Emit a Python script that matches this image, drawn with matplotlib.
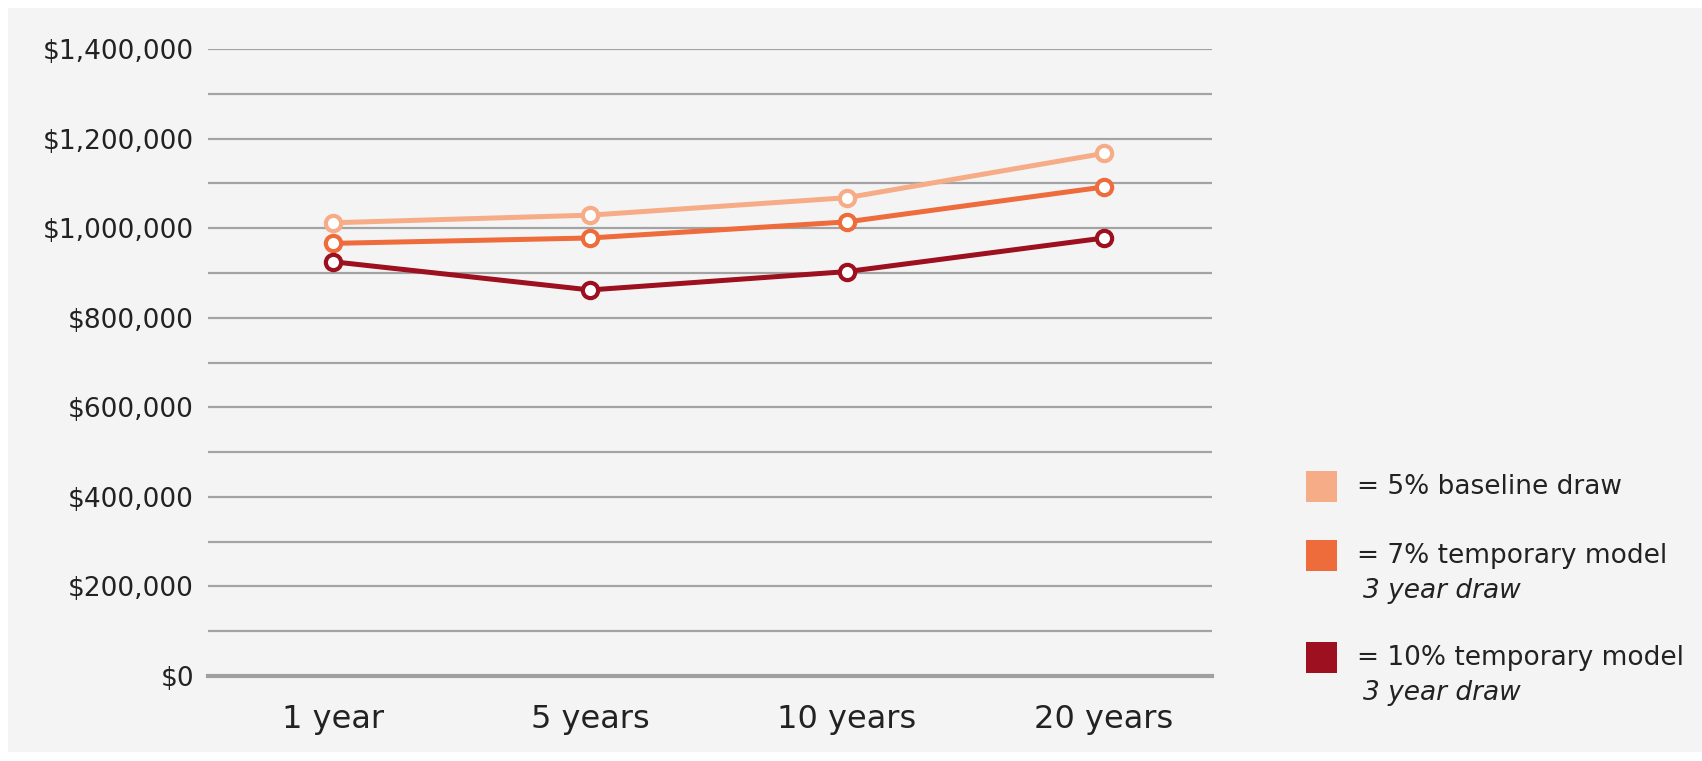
import matplotlib.pyplot as plt
from matplotlib.patches import Rectangle
from matplotlib.ticker import FuncFormatter, MultipleLocator

# data
periods = ["1 year", "5 years", "10 years", "20 years"]
baseline_5 = [1012000, 1029000, 1068000, 1167000]
temp_7 = [966000, 978000, 1014000, 1092000]
temp_10 = [925000, 862000, 903000, 978000]

series_names = ["= 5% baseline draw", "= 7% temporary model", "= 10% temporary model"]
series_notes = ["", "3 year draw", "3 year draw"]
colors = ["#F6AC87", "#EE6B3B", "#9C101F"]

W, H = 1702, 761
fig = plt.figure(figsize=(W / 100, H / 100), dpi=100)
fig.patch.set_facecolor("white")
# light grey panel behind everything
fig.add_artist(Rectangle((8 / W, 9 / H), 1 - 8 / W, 1 - 17 / H,
                         transform=fig.transFigure, facecolor="#F4F4F4",
                         edgecolor="none", zorder=-10))

ax = fig.add_axes([208 / W, 85 / H, 1004 / W, 627 / H])
ax.set_facecolor("none")

x = list(range(len(periods)))
for vals, c in zip([baseline_5, temp_7, temp_10], colors):
    ax.plot(x, vals, color=c, lw=3.6, marker="o", ms=11,
            mfc="white", mec=c, mew=3.0, zorder=3, clip_on=False)

ax.set_ylim(0, 1400000)
ax.set_xlim(-0.486, 3.42)
ax.yaxis.set_major_locator(MultipleLocator(200000))
ax.yaxis.set_minor_locator(MultipleLocator(100000))
ax.yaxis.set_major_formatter(FuncFormatter(lambda v, p: "${:,.0f}".format(v)))
ax.grid(True, which="both", axis="y", color="#A3A3A3", lw=1.6, zorder=1)
ax.set_xticks(x)
ax.set_xticklabels(periods)

for s in ["top", "right", "left"]:
    ax.spines[s].set_visible(False)
ax.spines["bottom"].set_color("#A0A0A0")
ax.spines["bottom"].set_linewidth(3.0)

ax.tick_params(axis="y", which="both", length=0, pad=10, labelsize=19, labelcolor="#222222")
ax.tick_params(axis="x", length=0, pad=20, labelsize=23, labelcolor="#222222")

# legend drawn by hand (square + label, optional italic note)
leg_y = [487, 556, 658]
for c, name, note, yc in zip(colors, series_names, series_notes, leg_y):
    fig.add_artist(Rectangle((1306 / W, 1 - (yc + 15) / H), 31 / W, 31 / H,
                             transform=fig.transFigure, facecolor=c, edgecolor="none"))
    fig.text(1357 / W, 1 - yc / H, name, fontsize=19, color="#222222", va="center")
    if note:
        fig.text(1363 / W, 1 - (yc + 35) / H, note, fontsize=19, color="#222222",
                 va="center", style="italic")

fig.savefig("out.png", dpi=100)
